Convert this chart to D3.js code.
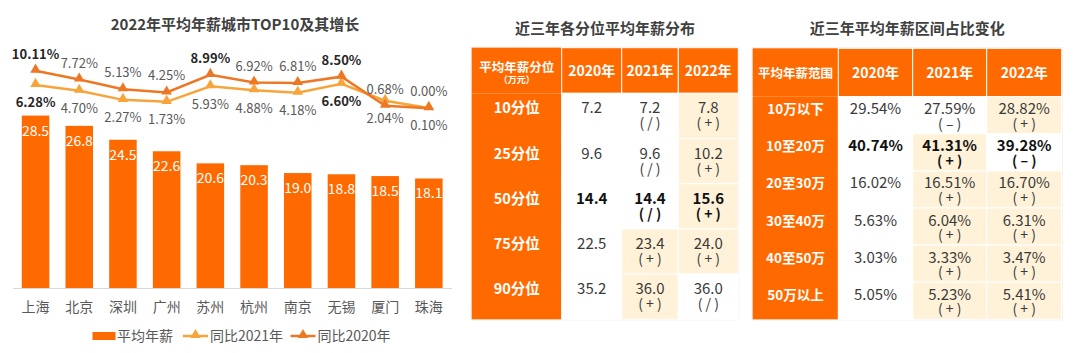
<!DOCTYPE html>
<html><head><meta charset="utf-8">
<script src="https://cdn.jsdelivr.net/npm/d3@7"></script>
<style>
html,body{margin:0;padding:0;background:#fff;}
svg{display:block;font-family:"Noto Sans CJK SC","Noto Sans",sans-serif;}
</style></head>
<body>
<svg id="chart" width="1080" height="353"></svg>
<script>
// ---------- DATA ----------
const cities = ["上海","北京","深圳","广州","苏州","杭州","南京","无锡","厦门","珠海"];
const avgSalary = [28.5,26.8,24.5,22.6,20.6,20.3,19.0,18.8,18.5,18.1];
const yoy2021 = [6.28,4.70,2.27,1.73,5.93,4.88,4.18,6.60,2.04,0.10];
const yoy2020 = [10.11,7.72,5.13,4.25,8.99,6.92,6.81,8.50,0.68,0.00];
const bold2021 = ["上海","无锡"];
const bold2020 = ["上海","苏州","无锡"];
const legendNames = ["平均年薪","同比2021年","同比2020年"];

const pctHeader = ["平均年薪分位","2020年","2021年","2022年"];
const pctRows = ["10分位","25分位","50分位","75分位","90分位"];
const pct2020 = ["7.2","9.6","14.4","22.5","35.2"];
const pct2021 = ["7.2","9.6","14.4","23.4","36.0"];
const pct2022 = ["7.8","10.2","15.6","24.0","36.0"];
const pctChg2021 = ["/","/","/","+","+"];
const pctChg2022 = ["+","+","+","+","/"];
const pctBoldRows = ["50分位"];

const rngHeader = ["平均年薪范围","2020年","2021年","2022年"];
const rngRows = ["10万以下","10至20万","20至30万","30至40万","40至50万","50万以上"];
const rng2020 = ["29.54%","40.74%","16.02%","5.63%","3.03%","5.05%"];
const rng2021 = ["27.59%","41.31%","16.51%","6.04%","3.33%","5.23%"];
const rng2022 = ["28.82%","39.28%","16.70%","6.31%","3.47%","5.41%"];
const rngChg2021 = ["–","+","+","+","+","+"];
const rngChg2022 = ["+","–","+","+","+","+"];
const rngBoldRows = ["10至20万"];

// ---------- STYLE ----------
const C_BAR = "#FF6A00", C_L20 = "#EE7724", C_L21 = "#F7A53A";
const C_HEAD = "#FF6A00", C_CREAM = "#FFF2D8", C_TITLE = "#404040", C_TXT = "#3a3a3a";

const svg = d3.select("#chart");

// ---------- BAR CHART ----------
const baseY = 288;
const x = d3.scaleBand().domain(cities).range([13.7, 450.7]).paddingInner(0.37).paddingOuter(0.185);
const y = d3.scaleLinear().domain([0, 30]).range([baseY, baseY - 181.5]);
const y2 = d3.scaleLinear().domain([0, 12]).range([108.3, 63.66]);

svg.append("text").attr("x", 235).attr("y", 30).attr("text-anchor", "middle")
  .attr("font-size", 15).attr("font-weight", "bold").attr("fill", C_TITLE)
  .text("2022年平均年薪城市TOP10及其增长");

const g = svg.append("g");
g.selectAll("rect.bar").data(cities).join("rect").attr("class", "bar")
  .attr("x", d => x(d)).attr("width", x.bandwidth())
  .attr("y", (d, i) => y(avgSalary[i])).attr("height", (d, i) => baseY - y(avgSalary[i]))
  .attr("fill", C_BAR);
g.selectAll("text.bv").data(cities).join("text").attr("class", "bv")
  .attr("x", d => x(d) + x.bandwidth() / 2).attr("y", (d, i) => y(avgSalary[i]) + 20)
  .attr("text-anchor", "middle").attr("font-size", 14).attr("fill", "#fff")
  .text((d, i) => avgSalary[i].toFixed(1));

const ax = g.append("g").attr("transform", `translate(0,${baseY})`)
  .call(d3.axisBottom(x).tickSize(0).tickPadding(14));
ax.select(".domain").attr("stroke", "#d9d9d9").attr("d", "M13,0.5H452");
ax.selectAll("text").attr("font-size", 14).attr("fill", "#595959")
  .attr("font-family", '"Noto Sans CJK SC",sans-serif');

const cx = d => x(d) + x.bandwidth() / 2;
const tri = d3.symbol().type(d3.symbolTriangle).size(48);
function drawLine(vals, color, above, boldList) {
  const line = d3.line().x((d, i) => cx(cities[i])).y(d => y2(d));
  g.append("path").datum(vals).attr("d", line).attr("fill", "none")
    .attr("stroke", color).attr("stroke-width", 2.5);
  g.selectAll(null).data(vals).join("path")
    .attr("transform", (d, i) => `translate(${cx(cities[i])},${y2(d) - 1})`)
    .attr("d", tri).attr("fill", color);
  g.selectAll(null).data(vals).join("text")
    .attr("x", (d, i) => cx(cities[i]))
    .attr("y", d => above ? y2(d) - 12 : y2(d) + 22.5)
    .attr("text-anchor", "middle").attr("font-size", 13)
    .attr("font-weight", (d, i) => boldList.includes(cities[i]) ? "bold" : "normal")
    .attr("fill", (d, i) => boldList.includes(cities[i]) ? "#262626" : "#595959")
    .text(d => d.toFixed(2) + "%");
}
drawLine(yoy2021, C_L21, false, bold2021);
drawLine(yoy2020, C_L20, true, bold2020);

// legend
const lg = svg.append("g").attr("font-size", 14).attr("fill", "#595959");
lg.append("rect").attr("x", 92.5).attr("y", 332).attr("width", 23).attr("height", 8).attr("fill", C_BAR);
lg.append("text").attr("x", 117).attr("y", 341).text(legendNames[0]);
[[183, C_L21, legendNames[1]], [290.5, C_L20, legendNames[2]]].forEach(([lx, col, name]) => {
  lg.append("line").attr("x1", lx).attr("x2", lx + 25).attr("y1", 336).attr("y2", 336)
    .attr("stroke", col).attr("stroke-width", 2.5);
  lg.append("path").attr("transform", `translate(${lx + 12.5},335)`).attr("d", tri).attr("fill", col);
  lg.append("text").attr("x", lx + 27).attr("y", 341).text(name);
});

// ---------- TABLES ----------
function drawTable(cfg) {
  const t = svg.append("g");
  const cols = cfg.cols, top = cfg.top, hh = cfg.headH, rh = cfg.rowH;
  const left = cols[0], right = cols[cols.length - 1];
  const n = cfg.rows.length;
  const bottom = top + hh + rh * n;
  t.append("text").attr("x", (left + right) / 2).attr("y", cfg.titleY).attr("text-anchor", "middle")
    .attr("font-size", 15).attr("font-weight", "bold").attr("fill", C_TITLE).text(cfg.title);
  t.append("rect").attr("x", left - 0.5).attr("y", top - 0.5).attr("width", right - left + 1)
    .attr("height", bottom - top + 1).attr("fill", "none").attr("stroke", "#ececec");
  cfg.header.forEach((h, j) => {
    t.append("rect").attr("x", cols[j]).attr("y", top).attr("width", cols[j + 1] - cols[j]).attr("height", hh)
      .attr("fill", C_HEAD).attr("stroke", "#fff").attr("stroke-width", j === 0 ? 0 : 1);
  });
  t.append("rect").attr("x", cols[0]).attr("y", top + hh).attr("width", cols[1] - cols[0])
    .attr("height", rh * n).attr("fill", C_HEAD);
  if (cfg.headSub) {
    t.append("text").attr("x", (cols[0] + cols[1]) / 2).attr("y", top + hh / 2 + 1)
      .attr("text-anchor", "middle").attr("font-size", 12.5).attr("font-weight", "bold").attr("fill", "#fff").text(cfg.header[0]);
    t.append("text").attr("x", (cols[0] + cols[1]) / 2).attr("y", top + hh / 2 + 12.5)
      .attr("text-anchor", "middle").attr("font-size", 9).attr("font-weight", "bold").attr("fill", "#fff").text(cfg.headSub);
  } else {
    t.append("text").attr("x", (cols[0] + cols[1]) / 2).attr("y", top + hh / 2 + 5)
      .attr("text-anchor", "middle").attr("font-size", 12.5).attr("font-weight", "bold").attr("fill", "#fff").text(cfg.header[0]);
  }
  cfg.header.slice(1).forEach((h, j) => {
    t.append("text").attr("x", (cols[j + 1] + cols[j + 2]) / 2).attr("y", top + hh / 2 + 5)
      .attr("text-anchor", "middle").attr("font-size", 14).attr("font-weight", "bold").attr("fill", "#fff").text(h);
  });
  cfg.rows.forEach((r, i) => {
    const ry = top + hh + rh * i;
    const b = cfg.boldRows.includes(r);
    t.append("text").attr("x", (cols[0] + cols[1]) / 2).attr("y", ry + cfg.l1)
      .attr("text-anchor", "middle").attr("font-size", cfg.labelSize).attr("font-weight", "bold").attr("fill", "#fff").text(r);
    cfg.data.forEach((col, j) => {
      const chg = j === 0 ? null : cfg.chg[j - 1][i];
      const x0 = cols[j + 1], w = cols[j + 2] - cols[j + 1];
      t.append("rect").attr("x", x0).attr("y", ry).attr("width", w).attr("height", rh)
        .attr("fill", chg === "+" ? C_CREAM : "#fff").attr("stroke", "#fff").attr("stroke-width", 1);
      t.append("text").attr("x", x0 + w / 2).attr("y", ry + cfg.l1)
        .attr("text-anchor", "middle").attr("font-size", 15)
        .attr("font-weight", b ? "bold" : "normal").attr("fill", b ? "#111" : C_TXT).text(col[i]);
      if (chg) {
        t.append("text").attr("x", x0 + w / 2).attr("y", ry + cfg.l2)
          .attr("text-anchor", "middle").attr("font-size", 14)
          .attr("font-weight", b ? "bold" : "normal").attr("fill", b ? "#111" : C_TXT)
          .attr("xml:space", "preserve").style("white-space", "pre")
          .text("( " + chg + " )");
      }
    });
  });
}

drawTable({
  title: "近三年各分位平均年薪分布", titleY: 33.5,
  cols: [471.7, 561.7, 621.7, 678.3, 738.3], top: 47.7, headH: 45.6, rowH: 45.2,
  header: pctHeader, headSub: "（万元）", rows: pctRows, boldRows: pctBoldRows,
  data: [pct2020, pct2021, pct2022], chg: [pctChg2021, pctChg2022],
  l1: 20, l2: 35, labelSize: 14.5
});
drawTable({
  title: "近三年平均年薪区间占比变化", titleY: 33.5,
  cols: [752.7, 838.3, 912.7, 986.7, 1061.7], top: 48.3, headH: 48.4, rowH: 37.1,
  header: rngHeader, headSub: null, rows: rngRows, boldRows: rngBoldRows,
  data: [rng2020, rng2021, rng2022], chg: [rngChg2021, rngChg2022],
  l1: 17.5, l2: 32, labelSize: 13.5
});
</script>
</body></html>
